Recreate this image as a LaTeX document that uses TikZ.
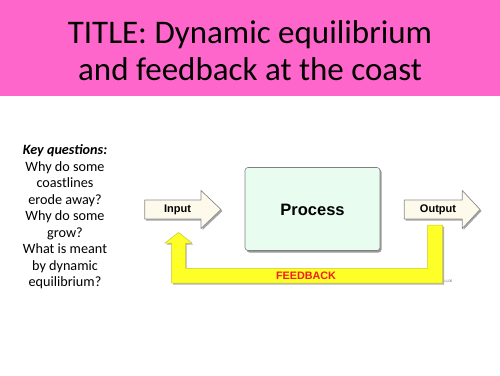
\documentclass[tikz,border=0pt]{standalone}
\usepackage{fontspec}
\setmainfont{Carlito}
\newfontfamily\helv{Liberation Sans}
\usetikzlibrary{calc}
\definecolor{bannerpink}{RGB}{255,102,204}
\definecolor{creamfill}{RGB}{253,250,236}
\definecolor{mintfill}{RGB}{232,252,240}
\definecolor{fbyellow}{RGB}{255,255,40}
\definecolor{fbedge}{RGB}{200,200,40}
\definecolor{fbred}{RGB}{240,30,30}
\tikzset{
  x=1pt,y=-1pt,
  titlefont/.style={font=\fontsize{33}{37}\selectfont,inner sep=0pt,anchor=base},
  arrowshape/.style={fill=creamfill,draw=black!45,line width=0.7pt,line join=round},
  lbl/.style={font=\helv\bfseries\fontsize{11}{13}\selectfont,inner sep=0pt},
}
\begin{document}
\begin{tikzpicture}
\useasboundingbox (0,0) rectangle (500,375);
% banner
\fill[bannerpink] (0,0) rectangle (500,96);
\node[titlefont] (title1) at (250,43) {TITLE: Dynamic equilibrium};
\node[titlefont] (title2) at (250,80) {and feedback at the coast};
% key questions
\node[align=center,font=\fontsize{14.2}{16.5}\selectfont,inner sep=0pt] (keyq) at (65,217)
  {\textbf{\textit{Key questions:}}\\Why do some\\coastlines\\erode away?\\Why do some\\grow?\\What is meant\\by dynamic\\equilibrium?};
% process box
\fill[black!40,rounded corners=3pt] (246.5,169) rectangle (381.5,252.5);
\draw[fill=mintfill,draw=black!50,line width=0.6pt,rounded corners=3pt] (245,167.5) rectangle (380,250.5);
\node[font=\helv\bfseries\fontsize{16.5}{18}\selectfont,inner sep=0pt] (process) at (312.5,209.5) {Process};
% feedback arrow
\fill[black!30] ($(178.5,232.5)+(1,1.5)$) -- ++(13.5,10.5) -- ++(-6.5,0) -- ++(0,25.3) -- (428.5,269.8) -- (428.5,226.5) -- (444,226.5) -- (444,284.5) -- (173,284.5) -- (173,244.5) -- (166.5,244.5) -- cycle;
\draw[fill=fbyellow,draw=fbedge,line width=0.5pt,line join=round]
  (178.5,232.5) -- (192,243) -- (185.5,243) -- (185.5,268.3) -- (427.5,268.3) -- (427.5,225)
  -- (442.5,225) -- (442.5,283) -- (171.7,283) -- (171.7,243) -- (165,243) -- cycle;
\node[font=\helv\bfseries\fontsize{10.8}{12}\selectfont,text=fbred,inner sep=0pt] (feedback) at (306,275.7) {FEEDBACK};
\node[font=\helv\fontsize{3.5}{4}\selectfont,text=black!60,inner sep=0pt] (ll) at (448.5,281) {LL06};
% input arrow
\fill[black!35] (146,201.5) -- (202.5,201.5) -- (202.5,192) -- (222.5,211) -- (202.5,230) -- (202.5,220.5) -- (146,220.5) -- cycle;
\draw[arrowshape] (144.7,200) -- (201,200) -- (201,190.5) -- (221,209.5) -- (201,228.5) -- (201,219) -- (144.7,219) -- cycle;
\node[lbl] (input) at (177.5,209.5) {Input};
% output arrow
\fill[black!35] (405.5,201.5) -- (463.5,201.5) -- (463.5,192) -- (481.5,211) -- (463.5,230) -- (463.5,220.5) -- (405.5,220.5) -- cycle;
\draw[arrowshape] (404.3,200) -- (462.3,200) -- (462.3,190.5) -- (480,209.5) -- (462.3,228.5) -- (462.3,219) -- (404.3,219) -- cycle;
\node[lbl] (output) at (438,209.5) {Output};
\end{tikzpicture}
\end{document}
